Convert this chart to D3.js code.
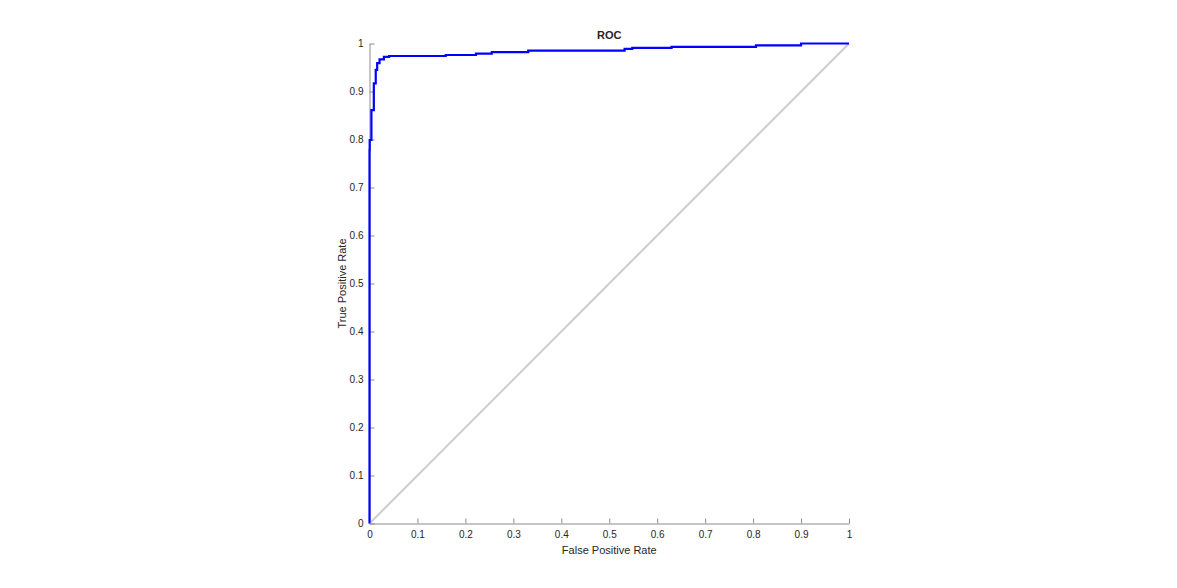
<!DOCTYPE html>
<html>
<head>
<meta charset="utf-8">
<script src="https://cdn.jsdelivr.net/npm/d3@7"></script>
<style>
  body { margin: 0; background: #fff; }
  svg { display: block; }
  text { font-family: "Liberation Sans", Arial, sans-serif; fill: #262626; }
</style>
</head>
<body>
<script>
// ROC curve points (false positive rate, true positive rate)
const fpr = [0, 0, 0.0004, 0.0004, 0.004, 0.004, 0.009, 0.009, 0.013, 0.013, 0.016, 0.016,
  0.021, 0.021, 0.030, 0.030, 0.041, 0.041, 0.159, 0.159, 0.222, 0.222, 0.255, 0.255,
  0.331, 0.331, 0.532, 0.532, 0.548, 0.548, 0.630, 0.630, 0.806, 0.806, 0.900, 0.900, 1];
const tpr = [0, 0.778, 0.778, 0.799, 0.799, 0.861, 0.861, 0.917, 0.917, 0.945, 0.945, 0.959,
  0.959, 0.967, 0.967, 0.972, 0.972, 0.974, 0.974, 0.976, 0.976, 0.979, 0.979, 0.982,
  0.982, 0.985, 0.985, 0.989, 0.989, 0.991, 0.991, 0.993, 0.993, 0.996, 0.996, 1, 1];
const diag_x = [0, 1];
const diag_y = [0, 1];
const tick_vals = [0, 0.1, 0.2, 0.3, 0.4, 0.5, 0.6, 0.7, 0.8, 0.9, 1];
const title_text = "ROC";
const x_label = "False Positive Rate";
const y_label = "True Positive Rate";

const margin = {top: 43.5, left: 369.5},
  width = 479.5,
  height = 480;

const x = d3.scaleLinear().domain([0, 1]).range([0, width]);
const y = d3.scaleLinear().domain([0, 1]).range([height, 0]);

const svg = d3.select("body").append("svg")
    .attr("width", 1177)
    .attr("height", 588);
const g = svg.append("g")
    .attr("transform", "translate(" + margin.left + "," + margin.top + ")");

const fmt = d => d === 0 || d === 1 ? String(d) : d3.format(".1f")(d);

// x axis, ticks pointing inward
const xAxis = g.append("g")
    .attr("transform", "translate(0," + height + ")")
    .call(d3.axisBottom(x).tickValues(tick_vals).tickFormat(fmt).tickSizeInner(-5).tickSizeOuter(0).tickPadding(7));
const yAxis = g.append("g")
    .call(d3.axisLeft(y).tickValues(tick_vals).tickFormat(fmt).tickSizeInner(-5).tickSizeOuter(0).tickPadding(6));

[xAxis, yAxis].forEach(a => {
  a.select(".domain").attr("stroke", "#8c8c8c");
  a.selectAll(".tick line").attr("stroke", "#8c8c8c");
  a.selectAll(".tick text")
      .style("font-size", "10px")
      .style("font-family", "'Liberation Sans', Arial, sans-serif")
      .attr("fill", "#262626");
});

// diagonal reference line
const diag = diag_x.map((d, i) => ({fx: d, ty: diag_y[i]}));
const roc = fpr.map((d, i) => ({fx: d, ty: tpr[i]}));
const line = d3.line()
    .x(d => x(d.fx))
    .y(d => y(d.ty));

g.append("path")
    .datum(diag)
    .attr("d", line)
    .attr("fill", "none")
    .attr("stroke", "#cccccc")
    .attr("stroke-width", 2);

g.append("path")
    .datum(roc)
    .attr("d", line)
    .attr("fill", "none")
    .attr("stroke", "#0000ff")
    .attr("stroke-width", 2.2)
    .attr("stroke-linejoin", "miter");

// title and labels
g.append("text")
    .attr("x", width / 2)
    .attr("y", -5)
    .attr("text-anchor", "middle")
    .style("font-size", "11px")
    .style("font-weight", "bold")
    .text(title_text);

g.append("text")
    .attr("x", width / 2)
    .attr("y", height + 30)
    .attr("text-anchor", "middle")
    .style("font-size", "11px")
    .text(x_label);

g.append("text")
    .attr("transform", "translate(-24," + (height / 2) + ") rotate(-90)")
    .attr("text-anchor", "middle")
    .style("font-size", "11px")
    .text(y_label);
</script>
</body>
</html>
